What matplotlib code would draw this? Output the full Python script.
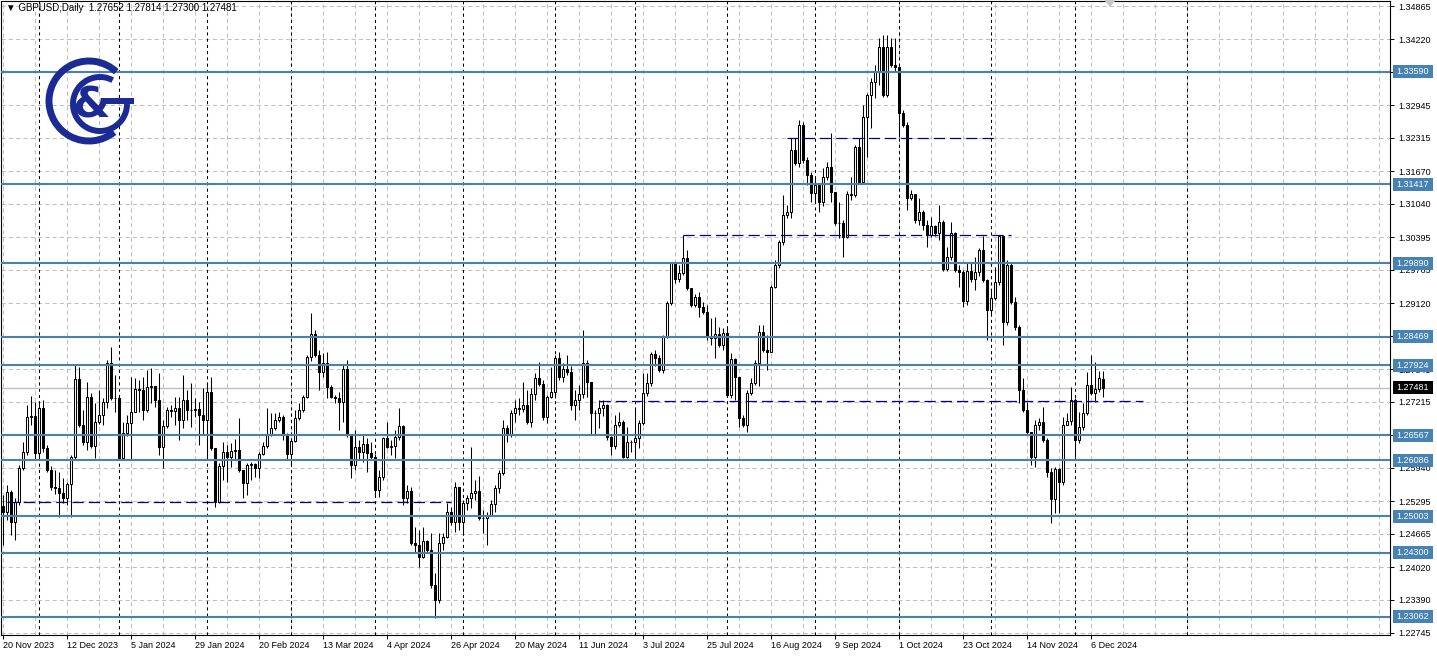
import numpy as np
import pandas as pd
import matplotlib
matplotlib.use("Agg")
import matplotlib.pyplot as plt
from matplotlib.patches import Rectangle, Arc, Polygon
from matplotlib.transforms import blended_transform_factory

plt.rcParams["font.family"] = ["Liberation Sans", "DejaVu Sans"]

# ---- data ----
symbol = "GBPUSD,Daily"
last_ohlc = [1.27652, 1.27814, 1.27300, 1.27481]
first_open = 1.2520
start_date = "2023-11-20"
end_date = "2024-12-11"
holidays = ["2023-12-25", "2024-01-01"]

closes = [
    1.2508, 1.2547, 1.2489, 1.2528, 1.2594, 1.2624, 1.2692, 1.2694, 1.2623, 1.2709,
    1.2632, 1.2590, 1.2557, 1.2555, 1.2545, 1.2536, 1.2563, 1.2615, 1.2766, 1.2677,
    1.2644, 1.2731, 1.2636, 1.2682, 1.2696, 1.2721, 1.2796, 1.2729, 1.2729, 1.2613,
    1.2661, 1.2680, 1.2702, 1.2746, 1.2744, 1.2706, 1.2750, 1.2752, 1.2725, 1.2634,
    1.2675, 1.2706, 1.2704, 1.2709, 1.2686, 1.2725, 1.2706, 1.2706, 1.2708, 1.2696,
    1.2686, 1.2740, 1.2632, 1.2528, 1.2597, 1.2624, 1.2615, 1.2626, 1.2628, 1.2590,
    1.2565, 1.2599, 1.2601, 1.2594, 1.2621, 1.2636, 1.2659, 1.2671, 1.2686, 1.2692,
    1.2657, 1.2621, 1.2646, 1.2690, 1.2706, 1.2731, 1.2808, 1.2853, 1.2812, 1.2779,
    1.2796, 1.2750, 1.2731, 1.2729, 1.2721, 1.2785, 1.2657, 1.2599, 1.2634, 1.2624,
    1.2640, 1.2623, 1.2615, 1.2551, 1.2576, 1.2651, 1.2634, 1.2636, 1.2653, 1.2675,
    1.2536, 1.2549, 1.2449, 1.2445, 1.2421, 1.2452, 1.2435, 1.2367, 1.2338, 1.2449,
    1.2460, 1.2508, 1.2489, 1.2557, 1.2489, 1.2526, 1.2536, 1.2545, 1.2549, 1.2497,
    1.2497, 1.2501, 1.2524, 1.2555, 1.2584, 1.2671, 1.2657, 1.2700, 1.2709, 1.2708,
    1.2715, 1.2682, 1.2737, 1.2767, 1.2756, 1.2692, 1.2731, 1.2740, 1.2806, 1.2769,
    1.2785, 1.2779, 1.2715, 1.2725, 1.2737, 1.2796, 1.2760, 1.2700, 1.2700, 1.2709,
    1.2715, 1.2653, 1.2636, 1.2677, 1.2682, 1.2615, 1.2644, 1.2644, 1.2651, 1.2680,
    1.2738, 1.2758, 1.2814, 1.2806, 1.2783, 1.2847, 1.2912, 1.2990, 1.2959, 1.2970,
    1.2999, 1.2941, 1.2909, 1.2924, 1.2905, 1.2895, 1.2847, 1.2845, 1.2853, 1.2831,
    1.2854, 1.2735, 1.2804, 1.2769, 1.2690, 1.2677, 1.2738, 1.2758, 1.2796, 1.2856,
    1.2822, 1.2818, 1.2943, 1.2986, 1.3030, 1.3083, 1.3088, 1.3208, 1.3183, 1.3257,
    1.3189, 1.3160, 1.3125, 1.3141, 1.3108, 1.3156, 1.3175, 1.3127, 1.3067, 1.3067,
    1.3040, 1.3123, 1.3121, 1.3214, 1.3146, 1.3272, 1.3315, 1.3340, 1.3359, 1.3407,
    1.3315, 1.3407, 1.3373, 1.3369, 1.3280, 1.3257, 1.3115, 1.3123, 1.3073, 1.3088,
    1.3063, 1.3044, 1.3061, 1.3048, 1.3069, 1.2978, 1.3001, 1.3048, 1.2976, 1.2972,
    1.2916, 1.2974, 1.2959, 1.2972, 1.3015, 1.2957, 1.2899, 1.2922, 1.2953, 1.3042,
    1.2876, 1.2986, 1.2914, 1.2866, 1.2744, 1.2706, 1.2663, 1.2615, 1.2677, 1.2682,
    1.2648, 1.2586, 1.2534, 1.2592, 1.2566, 1.2677, 1.2684, 1.2725, 1.2648, 1.2673,
    1.2700, 1.2754, 1.2738, 1.2746, 1.2767, 1.27481,
]

highs = [
    1.2541, 1.2561, 1.2551, 1.2536, 1.2599, 1.2644, 1.2715, 1.2733, 1.2721, 1.2721,
    1.2725, 1.2638, 1.2597, 1.2590, 1.2586, 1.2574, 1.2566, 1.2619, 1.2793, 1.2789,
    1.2706, 1.2760, 1.2738, 1.2719, 1.2744, 1.2729, 1.2802, 1.2827, 1.2773, 1.2725,
    1.2682, 1.2696, 1.2769, 1.2767, 1.2764, 1.2769, 1.2783, 1.2787, 1.2744, 1.2777,
    1.2686, 1.2711, 1.2715, 1.2731, 1.2731, 1.2773, 1.2744, 1.2758, 1.2729, 1.2721,
    1.2748, 1.2758, 1.2769, 1.2628, 1.2603, 1.2644, 1.2638, 1.2642, 1.2650, 1.2690,
    1.2590, 1.2603, 1.2605, 1.2603, 1.2624, 1.2644, 1.2709, 1.2700, 1.2700, 1.2702,
    1.2696, 1.2661, 1.2651, 1.2706, 1.2719, 1.2735, 1.2812, 1.2893, 1.2860, 1.2822,
    1.2816, 1.2818, 1.2754, 1.2735, 1.2740, 1.2793, 1.2802, 1.2657, 1.2667, 1.2648,
    1.2657, 1.2651, 1.2644, 1.2621, 1.2590, 1.2653, 1.2682, 1.2648, 1.2667, 1.2709,
    1.2677, 1.2561, 1.2557, 1.2479, 1.2474, 1.2479, 1.2454, 1.2468, 1.2391, 1.2468,
    1.2468, 1.2526, 1.2518, 1.2566, 1.2557, 1.2532, 1.2541, 1.2634, 1.2570, 1.2578,
    1.2512, 1.2508, 1.2532, 1.2561, 1.2590, 1.2686, 1.2677, 1.2706, 1.2725, 1.2729,
    1.2760, 1.2744, 1.2748, 1.2777, 1.2798, 1.2764, 1.2735, 1.2789, 1.2812, 1.2818,
    1.2796, 1.2812, 1.2791, 1.2744, 1.2754, 1.2860, 1.2802, 1.2758, 1.2706, 1.2725,
    1.2725, 1.2717, 1.2655, 1.2696, 1.2702, 1.2686, 1.2673, 1.2648, 1.2709, 1.2686,
    1.2777, 1.2777, 1.2818, 1.2822, 1.2812, 1.2851, 1.2916, 1.2992, 1.2990, 1.2986,
    1.3044, 1.3015, 1.2938, 1.2930, 1.2934, 1.2914, 1.2909, 1.2883, 1.2885, 1.2866,
    1.2864, 1.2864, 1.2816, 1.2806, 1.2767, 1.2696, 1.2744, 1.2767, 1.2802, 1.2870,
    1.2870, 1.2851, 1.2947, 1.2996, 1.3034, 1.3121, 1.3102, 1.3231, 1.3231, 1.3266,
    1.3262, 1.3195, 1.3166, 1.3154, 1.3144, 1.3173, 1.3185, 1.3241, 1.3121, 1.3108,
    1.3073, 1.3129, 1.3156, 1.3218, 1.3231, 1.3295, 1.3318, 1.3347, 1.3373, 1.3425,
    1.3430, 1.3430, 1.3425, 1.3425, 1.3363, 1.3286, 1.3262, 1.3131, 1.3119, 1.3115,
    1.3092, 1.3073, 1.3079, 1.3063, 1.3102, 1.3073, 1.3021, 1.3069, 1.3050, 1.2986,
    1.2976, 1.2990, 1.2992, 1.3001, 1.3019, 1.3042, 1.2959, 1.2938, 1.2982, 1.3044,
    1.3044, 1.2996, 1.2992, 1.2924, 1.2870, 1.2767, 1.2721, 1.2663, 1.2686, 1.2690,
    1.2711, 1.2651, 1.2594, 1.2595, 1.2594, 1.2692, 1.2700, 1.2750, 1.2729, 1.2702,
    1.2719, 1.2779, 1.2812, 1.2798, 1.2781, 1.27814,
]

lows = [
    1.2445, 1.2493, 1.2464, 1.2454, 1.2522, 1.2590, 1.2619, 1.2677, 1.2609, 1.2613,
    1.2624, 1.2586, 1.2551, 1.2543, 1.2499, 1.2526, 1.2522, 1.2499, 1.2609, 1.2673,
    1.2638, 1.2628, 1.2632, 1.2613, 1.2679, 1.2677, 1.2709, 1.2725, 1.2702, 1.2609,
    1.2609, 1.2655, 1.2609, 1.2709, 1.2702, 1.2686, 1.2702, 1.2719, 1.2711, 1.2619,
    1.2594, 1.2671, 1.2692, 1.2677, 1.2648, 1.2671, 1.2686, 1.2673, 1.2692, 1.2638,
    1.2657, 1.2613, 1.2628, 1.2518, 1.2526, 1.2570, 1.2566, 1.2595, 1.2609, 1.2586,
    1.2536, 1.2541, 1.2570, 1.2576, 1.2574, 1.2619, 1.2632, 1.2655, 1.2667, 1.2682,
    1.2648, 1.2609, 1.2599, 1.2644, 1.2686, 1.2702, 1.2729, 1.2800, 1.2808, 1.2744,
    1.2769, 1.2729, 1.2729, 1.2719, 1.2667, 1.2682, 1.2653, 1.2574, 1.2590, 1.2609,
    1.2605, 1.2586, 1.2609, 1.2537, 1.2537, 1.2570, 1.2632, 1.2619, 1.2613, 1.2648,
    1.2522, 1.2526, 1.2445, 1.2429, 1.2402, 1.2420, 1.2431, 1.2362, 1.2304, 1.2333,
    1.2435, 1.2458, 1.2483, 1.2470, 1.2474, 1.2464, 1.2512, 1.2516, 1.2532, 1.2493,
    1.2468, 1.2445, 1.2503, 1.2508, 1.2545, 1.2580, 1.2644, 1.2653, 1.2682, 1.2696,
    1.2702, 1.2679, 1.2673, 1.2725, 1.2752, 1.2686, 1.2680, 1.2729, 1.2729, 1.2764,
    1.2760, 1.2773, 1.2706, 1.2686, 1.2706, 1.2729, 1.2731, 1.2657, 1.2657, 1.2671,
    1.2694, 1.2648, 1.2619, 1.2630, 1.2673, 1.2613, 1.2613, 1.2624, 1.2613, 1.2632,
    1.2677, 1.2733, 1.2752, 1.2791, 1.2779, 1.2777, 1.2845, 1.2909, 1.2951, 1.2953,
    1.2967, 1.2938, 1.2905, 1.2905, 1.2885, 1.2891, 1.2841, 1.2831, 1.2806, 1.2827,
    1.2822, 1.2731, 1.2729, 1.2725, 1.2673, 1.2673, 1.2663, 1.2735, 1.2754, 1.2752,
    1.2818, 1.2783, 1.2841, 1.2941, 1.2980, 1.3025, 1.3077, 1.3077, 1.3179, 1.3175,
    1.3183, 1.3141, 1.3108, 1.3108, 1.3088, 1.3100, 1.3150, 1.3108, 1.3063, 1.3038,
    1.3001, 1.3038, 1.3112, 1.3117, 1.3144, 1.3144, 1.3195, 1.3251, 1.3309, 1.3334,
    1.3311, 1.3311, 1.3369, 1.3359, 1.3233, 1.3253, 1.3092, 1.3112, 1.3067, 1.3063,
    1.3054, 1.3021, 1.3040, 1.3042, 1.3034, 1.2974, 1.2974, 1.2996, 1.2972, 1.2943,
    1.2905, 1.2909, 1.2953, 1.2938, 1.2965, 1.2953, 1.2841, 1.2889, 1.2918, 1.2947,
    1.2831, 1.2870, 1.2911, 1.2860, 1.2719, 1.2702, 1.2657, 1.2599, 1.2595, 1.2667,
    1.2644, 1.2576, 1.2487, 1.2507, 1.2507, 1.2561, 1.2677, 1.2677, 1.2615, 1.2642,
    1.2667, 1.2696, 1.2735, 1.2721, 1.2740, 1.27300,
]

# horizontal levels (solid blue) with their price tags
levels = [1.33590, 1.31417, 1.29890, 1.28469, 1.27924,
          1.26567, 1.26086, 1.25003, 1.24300, 1.23062]
# dashed navy lines: price, first bar, last bar
dashed_price = [1.2527, 1.2723, 1.3044, 1.3231]
dashed_from = [1, 149, 170, 196]
dashed_to = [112, 285, 252, 248]

price_ticks = [1.22745, 1.23390, 1.24020, 1.24665, 1.25295, 1.25940, 1.26570,
               1.27215, 1.27845, 1.28490, 1.29120, 1.29765, 1.30395, 1.31040,
               1.31670, 1.32315, 1.32945, 1.33590, 1.34220, 1.34865]

# ---- prepare ----
dates = pd.bdate_range(start_date, end_date)
dates = dates[~dates.isin(pd.to_datetime(holidays))]
n = len(closes)
c = np.array(closes)
o = np.array([first_open] + closes[:-1])
o[-1] = last_ohlc[0]
h = np.maximum(np.array(highs), np.maximum(o, c))
l = np.minimum(np.array(lows), np.minimum(o, c))
x = np.arange(n)

W, H = 1437, 657
fig = plt.figure(figsize=(W / 100, H / 100), dpi=100)
ax = fig.add_axes([1 / W, (H - 635) / H, 1389 / W, 634 / H])
ax.set_xlim(-0.5, 346.75)
ax.set_ylim(1.22706, 1.34962)

# grid
for p in price_ticks:
    ax.axhline(p, color="#c0c0c0", lw=0.75, dashes=(4, 3), zorder=0)
for g in range(0, 347, 8):
    ax.axvline(g, color="#c0c0c0", lw=0.75, dashes=(4, 3), zorder=0)

# month separators
seps = [i for i in range(1, n) if dates[i].month != dates[i - 1].month]
next_month = (dates[-1] + pd.offsets.MonthBegin(1))
seps.append(n - 1 + (next_month - dates[-1]).days)
for s in seps:
    ax.axvline(s, color="black", lw=0.75, dashes=(3, 3), zorder=1)

# current price line
ax.axhline(last_ohlc[3], color="#c0c0c0", lw=1.0, zorder=1)

# candles
up = c >= o
ax.vlines(x, l, h, color="black", lw=0.75, zorder=3)
ax.bar(x[up], (c - o)[up], bottom=o[up], width=0.5, color="white",
       edgecolor="black", lw=0.75, zorder=4)
ax.bar(x[~up], (o - c)[~up], bottom=c[~up], width=0.5, color="black",
       edgecolor="black", lw=0.75, zorder=4)

# levels
for lv in levels:
    ax.axhline(lv, color="#4682b4", lw=1.5, zorder=5)
for p, a, b in zip(dashed_price, dashed_from, dashed_to):
    ax.plot([a, b], [p, p], color="#000080", lw=0.9, dashes=(9, 4), zorder=5)

# axes styling
for sp in ax.spines.values():
    sp.set_color("black")
    sp.set_linewidth(0.8)
ax.yaxis.tick_right()
ax.set_yticks(price_ticks)
ax.set_yticklabels([f"{p:.5f}" for p in price_ticks])
ax.tick_params(axis="y", direction="out", length=3, width=0.7, pad=3,
               labelsize=6.5)
xt = list(range(0, n, 16))
ax.set_xticks(xt)
ax.set_xticklabels([f"{dates[i].day} {dates[i].strftime('%b %Y')}" for i in xt])
ax.tick_params(axis="x", direction="out", length=3, width=0.7, pad=1.5,
               labelsize=6.5)
for t in ax.get_xticklabels():
    t.set_horizontalalignment("left")

# price tags on the right scale
tr = blended_transform_factory(fig.transFigure, ax.transData)
per_px = (1.34962 - 1.22706) / 634
for lv, fc in [(v, "#4682b4") for v in levels] + [(last_ohlc[3], "black")]:
    fig.add_artist(Rectangle((1393 / W, lv - 6.5 * per_px), 40 / W, 13 * per_px,
                             transform=tr, fc=fc, ec="none", zorder=10))
    fig.text(1396 / W, lv, f"{lv:.5f}", transform=tr, color="white",
             fontsize=6.5, va="center", ha="left", zorder=11)

# header
fig.text(6 / W, 1 - 8 / H,
         "\u25bc " + symbol + "  " + " ".join(f"{v:.5f}" for v in last_ohlc),
         fontsize=7, va="center", ha="left")

# logo and shift marker, drawn in pixel coordinates (y up)
lax = fig.add_axes([0, 0, 1, 1])
lax.set_xlim(0, W)
lax.set_ylim(0, H)
lax.axis("off")
logo = "#1b2a94"
lax.add_patch(Arc((89, H - 101), 80, 80, theta1=47, theta2=309,
                  color=logo, lw=5.0))
lax.add_patch(Arc((100, H - 104), 54, 54, theta1=62, theta2=360,
                  color=logo, lw=4.3))
lax.plot([106, 134], [H - 101, H - 101], color=logo, lw=4.3,
         solid_capstyle="butt")
lax.text(91, H - 106, "&", color=logo, fontsize=31, fontweight="bold",
         ha="center", va="center", family="DejaVu Sans")
lax.add_patch(Polygon([(1105, H), (1115, H), (1110, H - 6)], color="#c8c8c8"))

fig.savefig("out.png", dpi=100)
